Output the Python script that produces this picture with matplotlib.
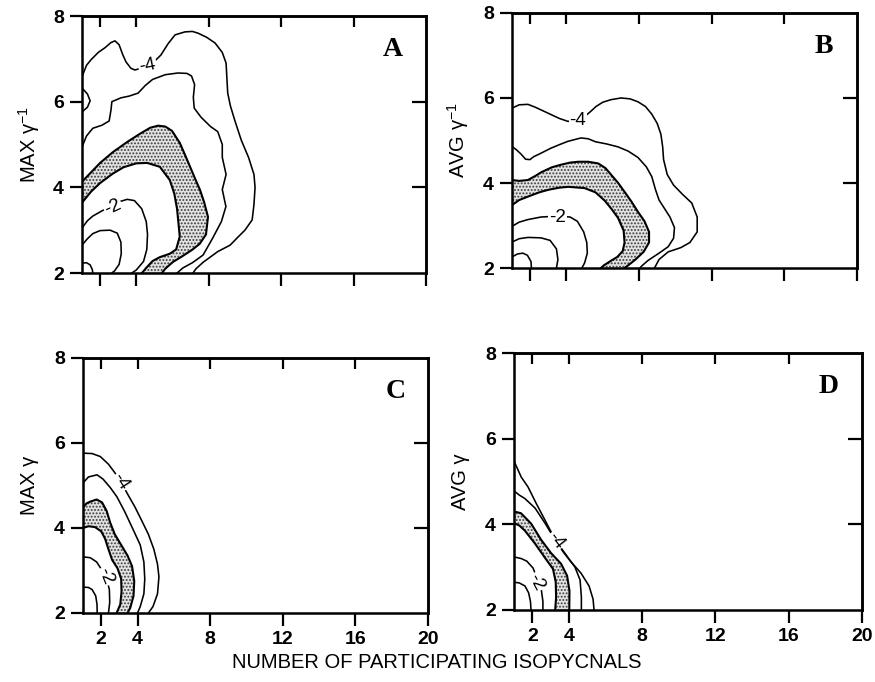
import matplotlib
matplotlib.use('Agg')
import matplotlib.pyplot as plt
import numpy as np

plt.rcParams['font.family'] = ['Liberation Sans', 'DejaVu Sans']
plt.rcParams['mathtext.fontset'] = 'custom'
plt.rcParams['mathtext.rm'] = 'Liberation Sans'
plt.rcParams['mathtext.it'] = 'Liberation Sans:italic'
plt.rcParams['hatch.linewidth'] = 0.9

# ---------------- data (x = number of isopycnals, y = gamma value) ----------------
x_ticks = [2, 4, 8, 12, 16, 20]
y_ticks = [2, 4, 6, 8]
levels = [-1.0, -1.5, -2.0, -2.5, -3.0, -3.5, -4.0]

# Panel A: MAX gamma^-1
A_m1_x = [1.0, 1.25, 1.45, 1.57, 1.6]
A_m1_y = [2.23, 2.24, 2.19, 2.08, 2.0]
A_m15_x = [1.0, 1.3, 1.6, 2.0, 2.55, 2.95, 3.15, 3.17, 3.05, 2.8, 2.65]
A_m15_y = [2.65, 2.8, 2.92, 2.99, 3.0, 2.93, 2.72, 2.45, 2.2, 2.05, 2.0]
A_m2_x = [1.0, 1.3, 1.6, 2.1, 2.6, 3.1, 3.5, 3.9, 4.3, 4.55, 4.62, 4.58, 4.4, 4.0, 3.75]
A_m2_y = [3.05, 3.22, 3.33, 3.45, 3.56, 3.67, 3.72, 3.69, 3.5, 3.2, 2.9, 2.55, 2.27, 2.07, 2.0]
A_m25_x = [1.0, 1.5, 2.0, 2.7, 3.3, 4.0, 4.6, 5.3, 5.85, 6.1, 6.25, 6.32, 6.4, 6.2, 5.85, 5.3, 4.9, 4.55, 4.31]
A_m25_y = [3.64, 3.9, 4.1, 4.32, 4.47, 4.56, 4.57, 4.48, 4.17, 3.85, 3.5, 3.2, 2.85, 2.55, 2.45, 2.37, 2.28, 2.12, 2.0]
A_m3_x = [1.0, 1.5, 2.0, 2.7, 3.5, 4.2, 4.76, 5.2, 5.6, 5.97, 6.4, 6.7, 6.97, 7.25, 7.52, 7.75, 7.96,
          7.85, 7.5, 7.08, 6.5, 6.03, 5.6, 5.42]
A_m3_y = [4.13, 4.35, 4.57, 4.82, 5.06, 5.25, 5.39, 5.44, 5.42, 5.32, 5.04, 4.75, 4.48, 4.2, 3.94, 3.65, 3.31,
          2.9, 2.68, 2.54, 2.38, 2.26, 2.1, 2.0]
A_m35_x = [1.0, 1.25, 1.6, 2.1, 2.5, 2.6, 2.65, 3.15, 3.6, 4.1, 4.5, 4.9, 5.6, 6.3, 6.8, 7.05, 7.22, 7.15, 7.2,
           7.57, 8.1, 8.5, 8.75, 8.75, 8.96, 8.75, 8.95, 8.7, 8.2, 7.69, 7.1, 6.58, 6.25]
A_m35_y = [4.94, 5.2, 5.38, 5.45, 5.55, 5.8, 6.0, 6.09, 6.13, 6.2, 6.38, 6.52, 6.63, 6.67, 6.66, 6.6, 6.4, 6.1,
           5.85, 5.64, 5.42, 5.3, 5.0, 4.7, 4.3, 3.95, 3.55, 3.2, 2.8, 2.42, 2.24, 2.12, 2.0]
A_m4_x = [1.0, 1.25, 1.5, 1.9, 2.27, 2.6, 2.82, 3.05, 3.25, 3.43, 3.7, 3.93, 4.4, 4.9, 5.36, 5.75, 6.14, 6.69,
          7.1, 7.41, 7.9, 8.35, 8.75, 8.96, 9.0, 9.05, 9.2, 9.45, 9.8, 10.2, 10.5, 10.56, 10.5, 10.4, 10.0,
          9.62, 9.18, 8.5, 7.69, 7.3, 7.13]
A_m4_y = [6.58, 6.85, 6.98, 7.15, 7.26, 7.38, 7.42, 7.33, 7.1, 6.93, 6.78, 6.74, 6.8, 6.9, 7.09, 7.35, 7.56, 7.63,
          7.64, 7.6, 7.5, 7.37, 7.15, 6.9, 6.58, 6.2, 5.9, 5.55, 5.1, 4.7, 4.3, 4.0, 3.6, 3.24, 3.0,
          2.84, 2.65, 2.5, 2.25, 2.1, 2.0]
A_m4b_x = [1.0, 1.3, 1.45, 1.3, 1.0]
A_m4b_y = [5.76, 5.87, 6.02, 6.18, 6.32]

# Panel B: AVG gamma^-1
B_m1_x = [1.0, 1.3, 1.6, 1.85, 2.05, 2.07]
B_m1_y = [2.26, 2.33, 2.35, 2.3, 2.15, 2.0]
B_m15_x = [1.0, 1.4, 1.88, 2.6, 3.1, 3.45, 3.53, 3.45]
B_m15_y = [2.61, 2.69, 2.72, 2.71, 2.65, 2.45, 2.2, 2.0]
B_m2_x = [1.0, 1.4, 1.88, 2.6, 3.5, 4.2, 4.6, 4.95, 5.12, 5.15, 5.0, 4.85]
B_m2_y = [2.98, 3.08, 3.14, 3.2, 3.22, 3.2, 3.1, 2.85, 2.6, 2.35, 2.12, 2.0]
B_m25_x = [1.0, 1.4, 1.88, 2.5, 3.0, 3.6, 4.1, 5.0, 5.6, 6.12, 6.5, 6.84, 7.15, 7.2, 7.1, 6.8, 6.45, 6.05, 5.9]
B_m25_y = [3.48, 3.6, 3.68, 3.78, 3.84, 3.89, 3.91, 3.88, 3.78, 3.58, 3.38, 3.18, 2.88, 2.6, 2.4, 2.26, 2.17, 2.06, 2.0]
B_m3_x = [1.0, 1.4, 1.88, 2.3, 2.6, 3.2, 3.7, 4.2, 4.65, 5.2, 5.75, 6.15, 6.45, 6.85, 7.22, 7.6, 7.94, 8.3, 8.55,
          8.55, 8.25, 7.8, 7.45, 7.2]
B_m3_y = [4.07, 4.05, 4.07, 4.17, 4.25, 4.37, 4.43, 4.48, 4.5, 4.5, 4.46, 4.35, 4.2, 4.0, 3.78, 3.55, 3.32, 3.1,
          2.85, 2.6, 2.38, 2.2, 2.08, 2.0]
B_m35_x = [1.0, 1.25, 1.5, 1.75, 1.99, 2.2, 2.5, 3.15, 3.6, 4.08, 4.8, 5.2, 5.6, 6.2, 6.84, 7.4, 7.94, 8.4, 8.7,
           8.9, 9.1, 9.4, 9.7, 9.95, 9.9, 9.6, 9.1, 8.5, 8.15, 8.05]
B_m35_y = [4.86, 4.78, 4.68, 4.56, 4.55, 4.62, 4.68, 4.82, 4.9, 4.98, 5.06, 5.04, 4.97, 4.92, 4.85, 4.75, 4.6,
           4.38, 4.15, 3.85, 3.6, 3.4, 3.2, 2.95, 2.7, 2.5, 2.35, 2.18, 2.05, 2.0]
B_m4_x = [1.0, 1.4, 1.88, 2.3, 2.7, 3.2, 3.6, 4.08, 4.5, 4.9, 5.3, 5.63, 6.0, 6.45, 7.0, 7.5, 7.94, 8.35, 8.7,
          9.0, 9.2, 9.3, 9.35, 9.55, 9.9, 10.4, 10.9, 11.2, 11.2, 10.8, 10.3, 9.6, 9.1, 8.85]
B_m4_y = [5.76, 5.84, 5.85, 5.78, 5.7, 5.6, 5.52, 5.45, 5.47, 5.53, 5.67, 5.8, 5.9, 5.96, 6.0, 5.98, 5.91, 5.8,
          5.62, 5.4, 5.15, 4.85, 4.55, 4.2, 3.95, 3.73, 3.53, 3.2, 2.85, 2.6, 2.48, 2.38, 2.2, 2.0]

# Panel C: MAX gamma
C_m15_x = [1.0, 1.3, 1.5, 1.7, 1.77, 1.78]
C_m15_y = [2.61, 2.6, 2.55, 2.4, 2.2, 2.0]
C_m2_x = [1.0, 1.4, 1.75, 2.05, 2.3, 2.45, 2.47, 2.4]
C_m2_y = [3.32, 3.3, 3.2, 3.0, 2.8, 2.55, 2.25, 2.0]
C_m25_x = [1.0, 1.3, 1.66, 2.0, 2.21, 2.4, 2.6, 2.9, 3.1, 3.12, 3.05, 2.85]
C_m25_y = [4.0, 4.04, 4.02, 3.92, 3.75, 3.5, 3.25, 3.05, 2.8, 2.5, 2.2, 2.0]
C_m3_x = [1.0, 1.2, 1.4, 1.75, 2.05, 2.3, 2.5, 2.75, 3.1, 3.45, 3.7, 3.82, 3.78, 3.6, 3.45]
C_m3_y = [4.49, 4.58, 4.62, 4.67, 4.6, 4.4, 4.12, 3.85, 3.6, 3.35, 3.1, 2.75, 2.4, 2.12, 2.0]
C_m35_x = [1.0, 1.3, 1.77, 2.1, 2.5, 2.87, 3.3, 3.75, 4.15, 4.35, 4.4, 4.35, 4.15, 4.0]
C_m35_y = [5.06, 5.2, 5.25, 5.15, 4.95, 4.73, 4.38, 3.97, 3.6, 3.2, 2.8, 2.45, 2.15, 2.0]
C_m4_x = [1.0, 1.5, 1.95, 2.4, 2.75, 3.1, 3.45, 3.85, 4.2, 4.6, 4.9, 5.1, 5.18, 5.1, 4.85, 4.6]
C_m4_y = [5.76, 5.75, 5.68, 5.5, 5.3, 5.07, 4.8, 4.5, 4.2, 3.85, 3.5, 3.15, 2.85, 2.45, 2.15, 2.0]

# Panel D: AVG gamma
D_m15_x = [1.0, 1.3, 1.6, 1.8, 1.9, 1.93]
D_m15_y = [2.65, 2.63, 2.56, 2.4, 2.2, 2.0]
D_m2_x = [1.0, 1.4, 1.7, 2.04, 2.3, 2.5, 2.58, 2.58]
D_m2_y = [3.24, 3.2, 3.14, 2.98, 2.7, 2.45, 2.2, 2.0]
D_m25_x = [1.0, 1.3, 1.6, 2.15, 2.69, 3.13, 3.28, 3.3, 3.25]
D_m25_y = [4.03, 3.97, 3.85, 3.55, 3.22, 2.96, 2.65, 2.3, 2.0]
D_m3_x = [1.0, 1.38, 1.93, 2.48, 3.02, 3.57, 3.9, 4.03, 4.02]
D_m3_y = [4.3, 4.26, 4.02, 3.64, 3.33, 3.08, 2.8, 2.45, 2.0]
D_m35_x = [1.0, 1.3, 1.6, 2.15, 2.69, 3.24, 3.84, 4.33, 4.61, 4.68, 4.68]
D_m35_y = [4.78, 4.68, 4.6, 4.38, 4.03, 3.64, 3.29, 3.0, 2.7, 2.3, 2.0]
D_m4_x = [1.0, 1.4, 1.77, 2.2, 2.69, 3.3, 3.7, 4.06, 4.66, 5.1, 5.32, 5.37]
D_m4_y = [5.48, 5.1, 4.87, 4.5, 4.1, 3.6, 3.35, 3.15, 2.86, 2.56, 2.25, 2.0]

panel_letters = ['A', 'B', 'C', 'D']
y_labels = ['MAX \u03b3$^{-1}$', 'AVG \u03b3$^{-1}$', 'MAX \u03b3', 'AVG \u03b3']
x_label = 'NUMBER OF PARTICIPATING ISOPYCNALS'
label_texts = ['-2', '-4']

panels = {
    'A': dict(lines=[(A_m1_x, A_m1_y), (A_m15_x, A_m15_y), (A_m2_x, A_m2_y), (A_m25_x, A_m25_y),
                     (A_m3_x, A_m3_y), (A_m35_x, A_m35_y), (A_m4_x, A_m4_y), (A_m4b_x, A_m4b_y)],
              band=((A_m25_x, A_m25_y), (A_m3_x, A_m3_y)),
              labels=[((2.72, 3.53), 25), ((4.62, 6.84), 12)]),
    'B': dict(lines=[(B_m1_x, B_m1_y), (B_m15_x, B_m15_y), (B_m2_x, B_m2_y), (B_m25_x, B_m25_y),
                     (B_m3_x, B_m3_y), (B_m35_x, B_m35_y), (B_m4_x, B_m4_y)],
              band=((B_m25_x, B_m25_y), (B_m3_x, B_m3_y)),
              labels=[((3.5, 3.2), 0), ((4.63, 5.47), 0)]),
    'C': dict(lines=[(C_m15_x, C_m15_y), (C_m2_x, C_m2_y), (C_m25_x, C_m25_y),
                     (C_m3_x, C_m3_y), (C_m35_x, C_m35_y), (C_m4_x, C_m4_y)],
              band=((C_m25_x, C_m25_y), (C_m3_x, C_m3_y)),
              labels=[((2.24, 2.86), -68), ((3.08, 5.08), -57)]),
    'D': dict(lines=[(D_m15_x, D_m15_y), (D_m2_x, D_m2_y), (D_m25_x, D_m25_y),
                     (D_m3_x, D_m3_y), (D_m35_x, D_m35_y), (D_m4_x, D_m4_y)],
              band=((D_m25_x, D_m25_y), (D_m3_x, D_m3_y)),
              labels=[((2.22, 2.65), -62), ((3.3, 3.62), -52)]),
}

# ---------------- figure ----------------
fig = plt.figure(figsize=(8.75, 6.82), dpi=100)
rects = {
    'A': [0.0937, 0.5997, 0.3931, 0.3768],
    'B': [0.5851, 0.6070, 0.3943, 0.3740],
    'C': [0.0949, 0.1012, 0.3943, 0.3740],
    'D': [0.5874, 0.1056, 0.3977, 0.3768],
}
spine_w = 1.8
bold_font = dict(family='Liberation Sans', weight='bold', size=14)

for i, key in enumerate(panel_letters):
    p = panels[key]
    ax = fig.add_axes(rects[key])
    ax.set_xlim(1, 20)
    ax.set_ylim(2, 8)

    # shaded band between -2.5 and -3 contours
    (ix, iy), (ox, oy) = p['band']
    px = np.concatenate([np.asarray(ox), np.asarray(ix)[::-1]])
    py = np.concatenate([np.asarray(oy), np.asarray(iy)[::-1]])
    ax.fill(px, py, facecolor='#e2e2e2', edgecolor='#3a3a3a', hatch='.....', linewidth=0, zorder=1)

    for (lx, ly) in p['lines']:
        lw = 1.5 if (lx is p['band'][0][0] or lx is p['band'][1][0]) else 1.15
        ax.plot(lx, ly, color='black', lw=lw, solid_joinstyle='round', solid_capstyle='round', zorder=2)

    for txt, ((tx, ty), rot) in zip(label_texts, p['labels']):
        ax.text(tx, ty, txt, fontsize=13.5, rotation=rot, ha='center', va='center',
                rotation_mode='anchor', zorder=3,
                bbox=dict(boxstyle='square,pad=0.05', facecolor='white', edgecolor='none'))

    for s in ax.spines.values():
        s.set_linewidth(spine_w)

    ax.set_xticks(x_ticks)
    ax.set_yticks(y_ticks)
    ax.tick_params(direction='out', length=9, width=1.6, top=False, right=False, pad=4)
    for lab in ax.get_yticklabels():
        lab.set_fontproperties(bold_font)
    if key in ('A', 'B'):
        ax.set_xticklabels([])
    else:
        ax.set_xticklabels([str(v) for v in x_ticks])
        for lab in ax.get_xticklabels():
            lab.set_fontproperties(bold_font)

    sx = ax.secondary_xaxis('top')
    sx.set_xticks(x_ticks[:-1])
    sx.set_xticklabels([])
    sx.tick_params(direction='in', length=8, width=1.6)
    sx.spines['top'].set_linewidth(spine_w)
    sy = ax.secondary_yaxis('right')
    sy.set_yticks([4, 6])
    sy.set_yticklabels([])
    sy.tick_params(direction='in', length=10, width=1.6)
    sy.spines['right'].set_linewidth(spine_w)

    ax.text(-0.155, 0.5, y_labels[i], transform=ax.transAxes, rotation=90,
            ha='center', va='center', fontsize=14.5)
    ax.text(0.905, 0.87, key, transform=ax.transAxes, ha='center', va='center',
            fontsize=20, fontweight='bold', family='Liberation Serif')

fig.text(0.4994, 0.028, x_label, ha='center', va='center', fontsize=14.5)

fig.savefig('out.png', dpi=100)
